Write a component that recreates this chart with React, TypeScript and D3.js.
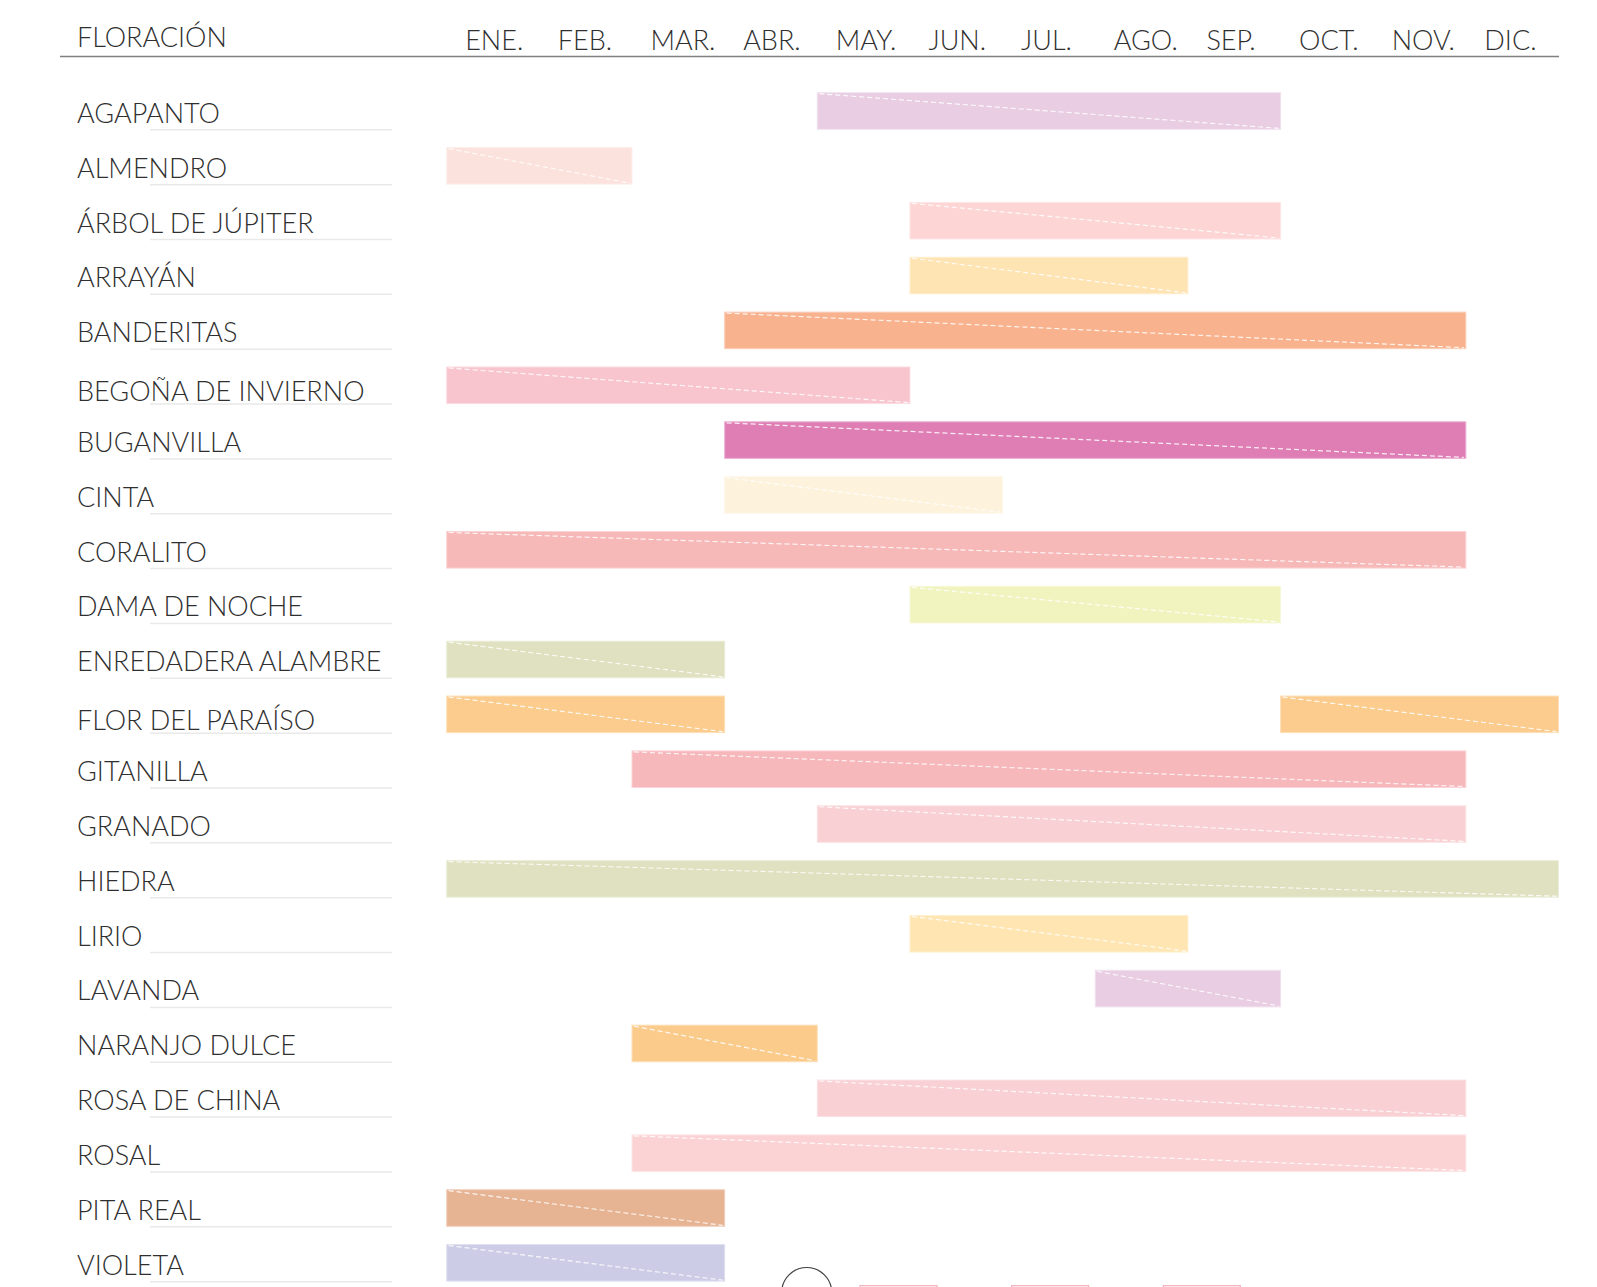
import React from "react";
import * as d3 from "d3";

const months = ["ENE.", "FEB.", "MAR.", "ABR.", "MAY.", "JUN.", "JUL.", "AGO.", "SEP.", "OCT.", "NOV.", "DIC."];

const plants = [
  "AGAPANTO", "ALMENDRO", "ÁRBOL DE JÚPITER", "ARRAYÁN", "BANDERITAS", "BEGOÑA DE INVIERNO",
  "BUGANVILLA", "CINTA", "CORALITO", "DAMA DE NOCHE", "ENREDADERA ALAMBRE", "FLOR DEL PARAÍSO",
  "GITANILLA", "GRANADO", "HIEDRA", "LIRIO", "LAVANDA", "NARANJO DULCE", "ROSA DE CHINA",
  "ROSAL", "PITA REAL", "VIOLETA",
];

// first and last flowering month (1 = ENE.)
const bloomStart = [5, 1, 6, 6, 4, 1, 4, 4, 1, 6, 1, 1, 3, 5, 1, 6, 8, 3, 5, 3, 1, 1];
const bloomEnd = [9, 2, 9, 8, 11, 5, 11, 6, 11, 9, 3, 3, 11, 11, 12, 8, 9, 4, 11, 11, 3, 3];

// second flowering period
const rebloomPlant = ["FLOR DEL PARAÍSO"];
const rebloomStart = [10];
const rebloomEnd = [12];

const colors = [
  "#E8CDE3", "#FCE2DD", "#FDD5D5", "#FFE4B3", "#F8B38E", "#F8C5CF",
  "#DF7EB5", "#FDF2DC", "#F7B8B8", "#F1F4BF", "#DFE1C0", "#FBCC8D",
  "#F6B8BB", "#F9D0D3", "#DFE1C1", "#FFE5B2", "#E8CDE3", "#FBCB8C",
  "#F9D0D3", "#FCD3D5", "#E6B393", "#CCCCE6",
];

const legendBoxes = ["a", "b", "c"];

const FONT = "Lato, 'Open Sans', sans-serif";
const TEXT = "#2f2f2f";

export default function App() {
  const W = 1597;
  const H = 1287;

  const x = d3.scaleLinear().domain([0, 12]).range([446.7, 1558.5]);
  const y = d3
    .scaleBand<string>()
    .domain(plants)
    .range([92.7, 92.7 + 21 * 54.85 + 36.6])
    .paddingInner(0.3327)
    .paddingOuter(0)
    .align(0);
  const bw = y.bandwidth();

  const segments: { plant: string; s: number; e: number; color: string }[] = [];
  plants.forEach((p, i) => segments.push({ plant: p, s: bloomStart[i], e: bloomEnd[i], color: colors[i] }));
  rebloomPlant.forEach((p, j) => {
    const i = plants.indexOf(p);
    segments.push({ plant: p, s: rebloomStart[j], e: rebloomEnd[j], color: colors[i] });
  });

  const lowered = new Set(["BEGOÑA DE INVIERNO", "FLOR DEL PARAÍSO"]);

  const legendX = d3.scalePoint<string>().domain(legendBoxes).range([860, 1163.3]);

  return (
    <svg
      width={W}
      height={H}
      style={{ position: "absolute", left: 0, top: 0, background: "#fff" }}
      fontFamily={FONT}
      fontWeight={300}
    >
      <rect x={0} y={0} width={W} height={H} fill="#fff" />
      {/* header */}
      <text x={77} y={47} fontSize={27} fill={TEXT}>
        FLORACIÓN
      </text>
      {months.map((m, i) => (
        <text key={m} x={x(i) + 18.5} y={50} fontSize={27} fill={TEXT}>
          {m}
        </text>
      ))}
      <line x1={60} x2={1559} y1={56.5} y2={56.5} stroke="#808080" strokeWidth={1.5} />

      {/* row labels */}
      {plants.map((p) => {
        const y0 = y(p)!;
        return (
          <g key={p}>
            <line x1={150} x2={392} y1={y0 + bw + 0.5} y2={y0 + bw + 0.5} stroke="#e9e9e9" strokeWidth={1.5} />
            <text x={77} y={y0 + bw / 2 + (lowered.has(p) ? 16 : 11.8)} fontSize={27} fill={TEXT}>
              {p}
            </text>
          </g>
        );
      })}

      {/* bars */}
      {segments.map((d, k) => {
        const x0 = x(d.s - 1);
        const x1 = x(d.e);
        const y0 = y(d.plant)!;
        const border = d3.interpolateRgb(d.color, "#ffffff")(0.4);
        return (
          <g key={k}>
            <rect x={x0} y={y0} width={x1 - x0} height={bw} fill={d.color} stroke={border} strokeWidth={1} />
            <line
              x1={x0 + 2}
              y1={y0 + 1}
              x2={x1 - 2}
              y2={y0 + bw - 1}
              stroke="#ffffff"
              strokeOpacity={0.85}
              strokeWidth={1.2}
              strokeDasharray="5 3"
            />
          </g>
        );
      })}

      {/* partially visible elements at bottom */}
      <circle cx={806.7} cy={1292.5} r={25} fill="none" stroke="#404040" strokeWidth={1.2} />
      {legendBoxes.map((b) => (
        <rect
          key={b}
          x={legendX(b)!}
          y={1285.7}
          width={77}
          height={30}
          fill="none"
          stroke="#f4b3bd"
          strokeWidth={1.3}
        />
      ))}
    </svg>
  );
}
